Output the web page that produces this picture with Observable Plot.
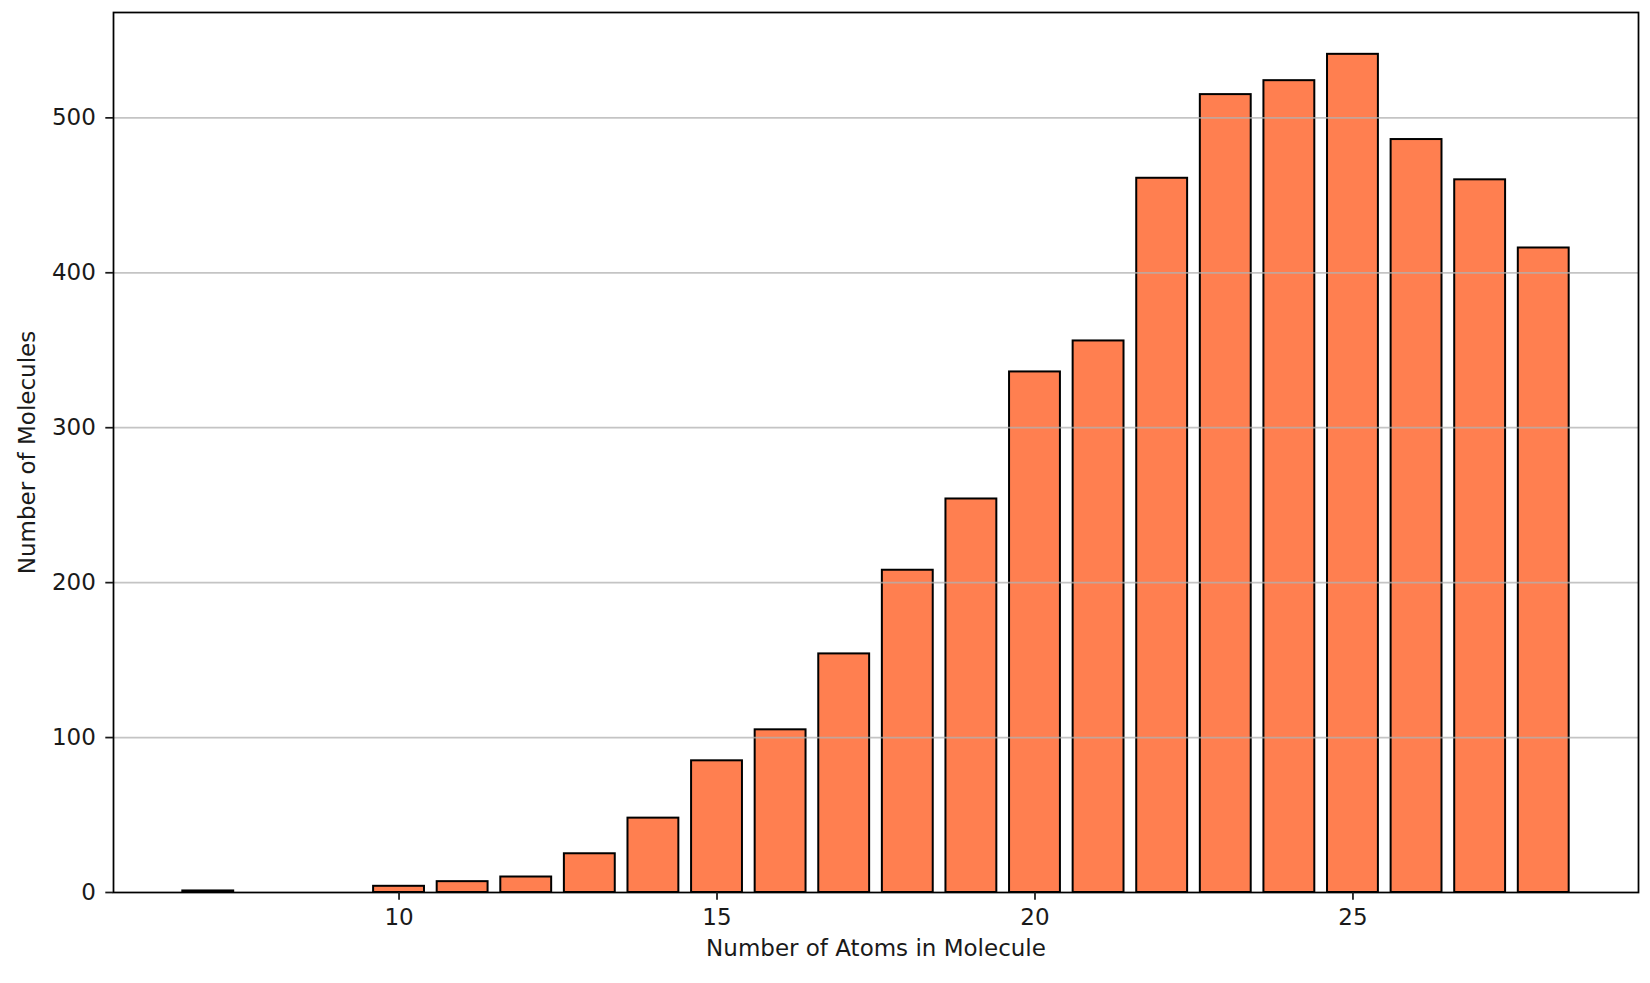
<!DOCTYPE html>
<html>
<head>
<meta charset="utf-8">
<script src="https://cdn.jsdelivr.net/npm/d3@7"></script>
<script src="https://cdn.jsdelivr.net/npm/@observablehq/plot@0.6"></script>
<style>
  html, body { margin: 0; padding: 0; background: #ffffff; }
  #chart { width: 1650px; height: 983px; }
</style>
</head>
<body>
<div id="chart"></div>
<script>
// Data
const atoms  = [7, 10, 11, 12, 13, 14, 15, 16, 17, 18, 19, 20, 21, 22, 23, 24, 25, 26, 27, 28];
const counts = [1, 4, 7, 10, 25, 48, 85, 105, 154, 208, 254, 336, 356, 461, 515, 524, 541, 486, 460, 416];
const xTicks = [10, 15, 20, 25];
const yTicks = [0, 100, 200, 300, 400, 500];
const xLabel = "Number of Atoms in Molecule";
const yLabel = "Number of Molecules";

const rows = atoms.map((a, i) => ({atoms: a, count: counts[i]}));
const barWidth = 0.8;
const font = "DejaVu Sans, Liberation Sans, sans-serif";

const chart = Plot.plot({
  width: 1650,
  height: 983,
  marginLeft: 113,
  marginRight: 12,
  marginTop: 12,
  marginBottom: 91,
  style: {fontFamily: font, fontSize: "23px", color: "#1a1a1a", background: "#ffffff", overflow: "visible"},
  x: {domain: [5.51, 29.49]},
  y: {domain: [0, 568]},
  marks: [
    Plot.rect(rows, {
      x1: d => d.atoms - barWidth / 2,
      x2: d => d.atoms + barWidth / 2,
      y1: 0,
      y2: "count",
      fill: "#FF7F50",
      stroke: "#000000",
      strokeWidth: 2
    }),
    Plot.ruleY(yTicks.filter(t => t > 0), {stroke: "#b0b0b0", strokeWidth: 1.75, strokeOpacity: 0.75}),
    Plot.frame({stroke: "#000000", strokeWidth: 1.75}),
    Plot.axisX({ticks: xTicks, tickSize: 7.7, tickPadding: 8, tickFormat: d => String(d), label: null, fontSize: 23, strokeWidth: 1.75}),
    Plot.axisY({ticks: yTicks, tickSize: 7.7, tickPadding: 10, tickFormat: d => String(d), label: null, fontSize: 23, strokeWidth: 1.75}),
    Plot.text([xLabel], {frameAnchor: "bottom", textAnchor: "middle", text: d => d, dy: 63, fontSize: 23, fill: "#1a1a1a"}),
    Plot.text([yLabel], {frameAnchor: "left", textAnchor: "middle", text: d => d, rotate: -90, dx: -86, fontSize: 23, fill: "#1a1a1a"})
  ]
});
document.getElementById("chart").appendChild(chart);
</script>
</body>
</html>
